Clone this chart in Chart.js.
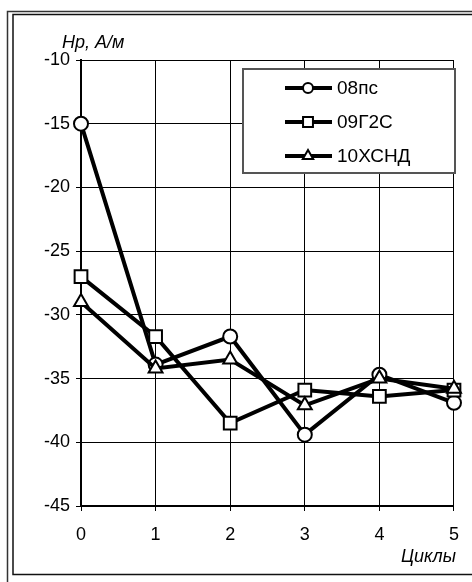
<!doctype html>
<html lang="ru">
<head>
  <meta charset="utf-8" />
  <title>Hp</title>
  <style>
    body { margin: 0; background: #fff; }
    canvas { display: block; }
  </style>
</head>
<body>
<canvas id="myChart" width="472" height="582"></canvas>
<script src="https://cdn.jsdelivr.net/npm/chart.js@4/dist/chart.umd.min.js"></script>
<script>
// cycles on x, coercive force Hp (A/m) on y
var cycles = ['0', '1', '2', '3', '4', '5'];
var hp08ps   = [-15, -33.9, -31.7, -39.4, -34.7, -36.9];
var hp09g2s  = [-27, -31.7, -38.5, -35.9, -36.4, -35.9];
var hp10hsnd = [-29, -34.2, -33.5, -37.1, -35.0, -35.8];
var yTicks = [-10, -15, -20, -25, -30, -35, -40, -45];

var FONT = "'Liberation Sans', Arial, sans-serif";

// double frame around the figure + axis captions
const framePlugin = {
  id: 'frame',
  beforeDraw(chart) {
    const ctx = chart.ctx;
    ctx.save();
    ctx.fillStyle = '#fff';
    ctx.fillRect(0, 0, chart.width, chart.height);
    ctx.strokeStyle = '#333';
    ctx.lineWidth = 1.5;
    ctx.beginPath();
    ctx.moveTo(7.5, chart.height);
    ctx.lineTo(7.5, 11.5);
    ctx.lineTo(chart.width, 11.5);
    ctx.stroke();
    ctx.strokeStyle = '#111';
    ctx.beginPath();
    ctx.moveTo(chart.width, 14.5);
    ctx.lineTo(13, 14.5);
    ctx.lineTo(13, 574.5);
    ctx.lineTo(chart.width, 574.5);
    ctx.stroke();
    ctx.restore();
  },
  afterDraw(chart) {
    const ctx = chart.ctx;
    const area = chart.chartArea;
    ctx.save();
    ctx.fillStyle = '#000';
    ctx.font = 'italic 18px ' + FONT;
    ctx.textBaseline = 'alphabetic';
    ctx.textAlign = 'left';
    ctx.fillText('Hp, A/м', area.left - 19, area.top - 12);
    ctx.textAlign = 'right';
    ctx.fillText('Циклы', area.right + 2, 562);
    ctx.restore();
  }
};

// legend box: line with marker + name
const legendMarks = { circle: 5, rect: 7, triangle: 6 };
const boxLegend = {
  id: 'boxLegend',
  afterDatasetsDraw(chart) {
    const ctx = chart.ctx;
    const area = chart.chartArea;
    const x0 = area.left + 162, y0 = area.top + 9, w = 212, h = 104;
    ctx.save();
    ctx.fillStyle = '#fff';
    ctx.fillRect(x0, y0, w, h);
    ctx.strokeStyle = '#555';
    ctx.lineWidth = 2;
    ctx.strokeRect(x0, y0, w, h);
    chart.data.datasets.forEach(function (ds, i) {
      const y = y0 + 19 + i * 34;
      const lx = x0 + 42;
      ctx.strokeStyle = '#000';
      ctx.lineWidth = 4;
      ctx.beginPath();
      ctx.moveTo(lx, y);
      ctx.lineTo(lx + 47, y);
      ctx.stroke();
      ctx.fillStyle = '#fff';
      ctx.strokeStyle = '#000';
      ctx.lineWidth = 2;
      Chart.helpers.drawPoint(ctx, {
        pointStyle: ds.pointStyle,
        radius: legendMarks[ds.pointStyle],
        borderWidth: 2,
        rotation: 0
      }, lx + 23, y);
      ctx.fillStyle = '#000';
      ctx.font = '19px ' + FONT;
      ctx.textAlign = 'left';
      ctx.textBaseline = 'middle';
      ctx.fillText(ds.label, lx + 52, y + 1);
    });
    ctx.restore();
  }
};

function series(label, data, style, radius, order) {
  return {
    label: label,
    data: data,
    borderColor: '#000',
    borderWidth: 4,
    backgroundColor: '#fff',
    pointStyle: style,
    pointRadius: radius,
    pointBorderWidth: 2,
    pointBackgroundColor: '#fff',
    pointBorderColor: '#000',
    tension: 0,
    order: order
  };
}

const ctx = document.getElementById('myChart');
const myChart = new Chart(ctx, {
  type: 'line',
  data: {
    labels: cycles,
    datasets: [
      series('08пс', hp08ps, 'circle', 7, 3),
      series('09Г2С', hp09g2s, 'rect', 9, 2),
      series('10ХСНД', hp10hsnd, 'triangle', 8, 1)
    ]
  },
  options: {
    responsive: false,
    animation: false,
    layout: { padding: { left: 0, top: 60, right: 11, bottom: 0 } },
    plugins: {
      legend: { display: false },
      tooltip: { enabled: false },
      title: { display: false }
    },
    scales: {
      x: {
        offset: false,
        grid: { color: '#000', lineWidth: 1, tickLength: 5, tickColor: '#000' },
        border: { color: '#000', width: 2 },
        ticks: { color: '#000', font: { family: FONT, size: 18 }, padding: 13, maxRotation: 0 },
        afterFit(scale) { scale.height = 76; }
      },
      y: {
        min: -45,
        max: -10,
        afterBuildTicks(scale) { scale.ticks = yTicks.map(function (v) { return { value: v }; }); },
        grid: { color: '#000', lineWidth: 1, tickLength: 5, tickColor: '#000' },
        border: { color: '#000', width: 2 },
        ticks: { color: '#000', font: { family: FONT, size: 18 }, padding: 6 },
        afterFit(scale) { scale.width = 81; }
      }
    }
  },
  plugins: [framePlugin, boxLegend]
});
</script>
</body>
</html>
